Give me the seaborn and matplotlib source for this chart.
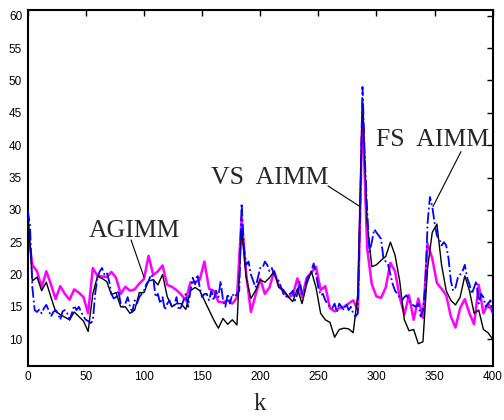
import numpy as np
import pandas as pd
import matplotlib
matplotlib.use("Agg")
import matplotlib.pyplot as plt
import seaborn as sns

# ---- data ----
k_coarse = list(range(0, 401, 4))
vs_aimm = [30.5, 19.0, 19.6, 17.5, 18.8, 16.5, 14.3, 13.8, 13.4, 13.0,
           14.2, 13.5, 12.8, 11.2, 17.0, 19.7, 19.4, 18.9, 16.9, 17.2,
           15.0, 15.0, 14.0, 14.5, 17.2, 17.2, 19.0, 19.2, 18.4, 20.0,
           16.6, 15.0, 15.5, 15.5, 14.6, 17.5, 18.0, 17.5, 16.0, 14.5,
           13.0, 11.7, 13.2, 12.3, 13.0, 12.2, 27.0, 19.5, 16.3, 17.5,
           19.2, 18.8, 19.5, 20.5, 18.0, 17.6, 16.6, 15.8, 17.8, 15.5,
           18.5, 20.5, 18.0, 14.0, 13.0, 12.6, 10.3, 11.5, 11.7, 11.6,
           11.0, 17.0, 47.0, 28.0, 21.2, 21.5, 22.2, 22.8, 25.0, 23.0,
           19.0, 13.0, 11.3, 11.5, 9.3, 9.6, 21.0, 26.5, 27.8, 21.5,
           17.5, 16.0, 15.3, 16.5, 19.8, 17.5, 14.0, 14.5, 11.5, 11.0,
           10.0]
agimm = [27.0, 21.5, 20.5, 18.0, 20.5, 18.5, 16.2, 18.2, 17.0, 16.1,
         17.7, 17.2, 16.5, 14.0, 21.0, 19.8, 19.7, 19.6, 20.4, 19.5,
         17.0, 18.1, 17.5, 17.7, 18.6, 19.3, 22.9, 19.9, 20.5, 21.4,
         18.4, 18.1, 17.6, 16.9, 16.0, 18.8, 18.8, 19.2, 22.0, 17.8,
         17.5, 15.8, 15.7, 16.0, 15.5, 16.4, 28.8, 20.0, 14.2, 16.8,
         19.3, 17.0, 18.0, 20.5, 18.2, 17.5, 16.5, 16.8, 19.4, 16.5,
         19.5, 20.3, 21.2, 17.6, 18.2, 14.8, 14.3, 14.8, 15.0, 15.5,
         16.0, 14.5, 45.5, 24.0, 18.5, 16.6, 16.4, 18.0, 21.8, 20.5,
         16.5, 13.8, 16.8, 13.0, 16.3, 13.3, 24.8, 22.5, 18.7, 17.8,
         16.8, 13.5, 11.8, 14.8, 16.2, 14.0, 12.3, 18.4, 14.0, 15.5,
         14.2]
k_fine = list(range(0, 401, 2))
fs_aimm = [30.0, 27.5, 18.0, 14.5, 14.2, 14.6, 14.0, 14.8, 15.3, 14.5,
           13.5, 14.2, 14.5, 14.0, 13.0, 14.3, 14.5, 14.0, 13.0, 14.0,
           15.2, 14.5, 15.0, 14.2, 13.5, 13.0, 12.8, 12.5, 12.8, 17.0,
           19.5, 20.5, 21.0, 20.0, 20.3, 19.0, 17.0, 16.3, 16.5, 17.5,
           15.5, 15.0, 15.5, 16.5, 15.0, 14.2, 16.0, 15.5, 16.5, 17.0,
           17.5, 18.5, 19.0, 20.0, 19.5, 16.5, 17.0, 15.5, 16.5, 14.5,
           15.5, 16.0, 15.0, 15.2, 16.5, 14.5, 15.0, 16.0, 17.0, 15.0,
           17.5, 19.5, 18.5, 20.0, 18.0, 16.5, 17.0, 17.0, 16.0, 17.5,
           16.0, 17.5, 16.5, 19.0, 16.0, 15.0, 17.0, 15.5, 17.0, 16.5,
           17.0, 17.5, 31.0, 24.0, 21.5, 22.0, 20.0, 19.0, 18.0, 19.5,
           21.0, 21.0, 22.0, 21.5, 20.5, 21.0, 20.0, 19.5, 19.0, 18.0,
           17.0, 16.5, 17.0, 17.0, 17.5, 16.0, 17.0, 19.0, 17.0, 17.5,
           19.0, 20.0, 20.5, 21.7, 20.0, 18.0, 16.8, 17.0, 16.0, 15.5,
           15.0, 14.8, 15.5, 14.2, 15.5, 15.0, 14.5, 15.5, 14.5, 15.0,
           14.0, 13.5, 14.0, 30.0, 49.0, 38.0, 30.0, 23.5, 25.0, 27.0,
           26.5, 26.0, 25.5, 22.5, 22.0, 21.5, 20.0, 18.5, 17.5, 17.0,
           16.5, 16.0, 16.5, 16.8, 16.0, 15.5, 15.2, 15.0, 15.5, 13.5,
           14.5, 18.0, 28.0, 32.0, 30.5, 28.0, 26.0, 25.5, 24.5, 25.0,
           24.5, 22.5, 19.0, 17.5, 18.0, 19.5, 20.0, 20.5, 21.5, 19.5,
           18.5, 17.0, 18.0, 19.0, 15.5, 17.0, 16.5, 15.0, 15.5, 16.0,
           14.0]
x_ticks = [0, 50, 100, 150, 200, 250, 300, 350, 400]
y_ticks = [10, 15, 20, 25, 30, 35, 40, 45, 50, 55, 60]
x_label = "k"
labels = ["AGIMM", "VS  AIMM", "FS  AIMM"]

sns.set_style("white")
plt.rcParams['font.family'] = ['Liberation Sans', 'DejaVu Sans']

fig = plt.figure(figsize=(5.04, 4.2), dpi=100)
ax = fig.add_axes([27.7 / 504, 1 - 365.7 / 420, 465 / 504, 355.7 / 420])

df_c = pd.DataFrame({"k": k_coarse, "vs": vs_aimm, "ag": agimm})
df_f = pd.DataFrame({"k": k_fine, "fs": fs_aimm})

sns.lineplot(data=df_c, x="k", y="vs", ax=ax, color="black", linewidth=1.0,
             estimator=None, sort=False, zorder=3)
sns.lineplot(data=df_c, x="k", y="ag", ax=ax, color="#ff00ff", linewidth=1.8,
             estimator=None, sort=False, zorder=2)
sns.lineplot(data=df_f, x="k", y="fs", ax=ax, color="#0000ff", linewidth=1.3,
             linestyle="-.", estimator=None, sort=False, zorder=4)

ax.set_xlim(0, 400)
ax.set_ylim(5.9, 60.9)
ax.set_xticks(x_ticks)
ax.set_yticks(y_ticks)
ax.tick_params(direction="in", length=4, width=1, top=True, right=True,
               labelsize=8.5, colors="black", pad=4)
for sp in ax.spines.values():
    sp.set_visible(True)
    sp.set_linewidth(1.5)
    sp.set_color("black")

ax.set_xlabel(x_label, fontsize=18, family=["Liberation Serif"], labelpad=7)
ax.set_ylabel("")

serif = ["Liberation Serif"]
line_kw = dict(arrowstyle="-", color="black", lw=0.8, shrinkA=0, shrinkB=0)

# text labels
ax.text(92.0, 25.8, labels[0], ha="center", va="baseline", fontsize=18.5, family=serif)
ax.text(208.5, 34.0, labels[1], ha="center", va="baseline", fontsize=18.5, family=serif)
ax.text(347.8, 39.9, labels[2], ha="center", va="baseline", fontsize=18.5, family=serif)

# leader lines
ax.annotate("", xy=(100, 19.6), xytext=(88.9, 25.35), arrowprops=line_kw)
ax.annotate("", xy=(286, 30.5), xytext=(258.3, 33.7), arrowprops=line_kw)
ax.annotate("", xy=(348.6, 30.5), xytext=(372.7, 39.0), arrowprops=line_kw)

fig.savefig("out.png", dpi=100)
